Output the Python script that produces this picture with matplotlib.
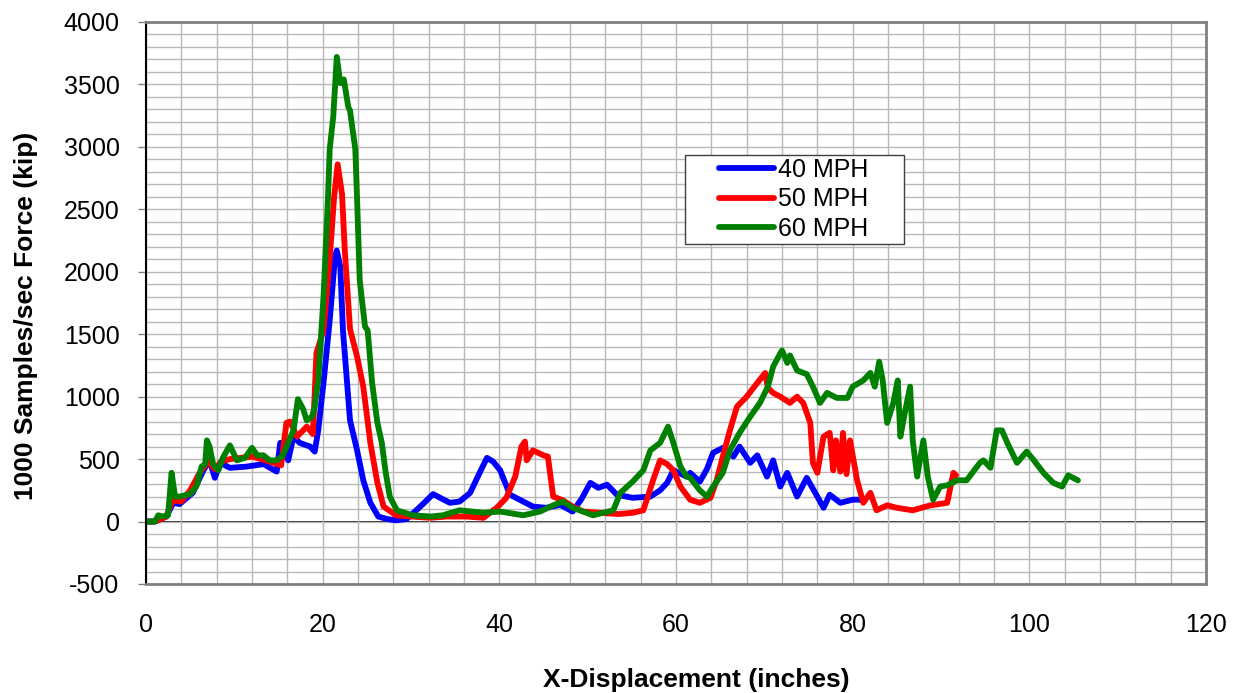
import matplotlib.pyplot as plt
from matplotlib.ticker import MultipleLocator
from matplotlib.patches import Rectangle

plt.rcParams['font.family'] = ['Liberation Sans', 'DejaVu Sans']
plt.rcParams['axes.unicode_minus'] = False

# --- data ---
x_40 = [0, 1, 2.3, 3.1, 3.8, 5.3, 6.5, 7.2, 7.8, 8.4, 9.5, 11.4, 13.3, 14.8, 15.2,
        16.1, 16.7, 17.4, 18.6, 19.1, 19.5, 20.1, 20.8, 21.4, 21.6, 22.0, 22.3,
        23.1, 23.9, 24.6, 25.4, 26.3, 27.3, 28.3, 29.5, 30.6, 31.5, 32.5, 33.3,
        34.4, 35.5, 36.7, 37.7, 38.6, 39.3, 40.1, 41.2, 42.3, 43.8, 45.3, 46.9,
        48.3, 49.3, 50.3, 51.2, 52.2, 53.3, 55.1, 57.1, 58.2, 59.0, 59.7, 61.2,
        61.6, 62.7, 63.5, 64.2, 65.3, 66.5, 67.2, 68.4, 69.2, 70.3, 71.0, 71.8,
        72.6, 73.7, 74.8, 76.0, 76.7, 77.4, 78.6, 80.0, 80.8, 81.3]
y_40 = [0, 0, 40, 150, 140, 230, 410, 490, 350, 470, 430, 440, 460, 400, 630,
        490, 680, 630, 600, 560, 730, 1110, 1610, 2120, 2170, 2040, 1530,
        810, 570, 330, 150, 40, 20, 10, 20, 90, 150, 220, 190,
        150, 160, 230, 380, 510, 480, 410, 215, 175, 120, 110, 133,
        80, 180, 310, 270, 295, 215, 190, 200, 250, 310, 410, 360,
        390, 320, 420, 550, 590, 520, 600, 470, 530, 360, 490, 280,
        390, 200, 350, 200, 110, 215, 150, 175, 175, 170]

x_50 = [0, 1, 2.3, 3.0, 4.0, 5.0, 6.0, 7.0, 7.8, 8.5, 9.5, 12.0, 14.0, 15.3,
        15.9, 16.3, 17.1, 18.2, 18.9, 19.3, 20.1, 20.8, 21.3, 21.7, 22.2, 22.5,
        23.1, 23.9, 24.6, 25.4, 26.2, 26.9, 28.3, 30.0, 32.2, 34.0, 36.3, 38.2,
        39.7, 40.8, 41.8, 42.5, 42.9, 43.1, 43.8, 45.0, 45.5, 46.1, 47.2, 48.3,
        49.5, 51.4, 53.5, 55.1, 56.3, 57.4, 58.2, 59.0, 59.7, 60.5, 61.6, 62.7,
        63.9, 64.6, 65.3, 66.1, 66.9, 68.0, 69.2, 70.1, 70.4, 71.0, 71.8, 72.9,
        73.7, 74.4, 75.2, 75.5, 76.0, 76.7, 77.4, 77.8, 78.1, 78.6, 78.9, 79.3,
        79.7, 80.5, 81.2, 82.0, 82.7, 83.9, 85.0, 86.8, 88.8, 90.7, 91.4, 91.7]
y_50 = [0, 0, 40, 170, 160, 250, 380, 480, 420, 480, 500, 520, 480, 450,
        790, 800, 680, 760, 700, 1350, 1530, 2100, 2600, 2860, 2620, 2180,
        1540, 1320, 1080, 630, 310, 120, 50, 40, 30, 40, 40, 30,
        110, 190, 360, 600, 640, 490, 570, 530, 520, 200, 170, 120,
        80, 70, 60, 70, 90, 330, 490, 460, 410, 280, 175, 150,
        190, 330, 520, 730, 920, 1000, 1110, 1190, 1070, 1030, 1000, 950,
        1000, 950, 790, 470, 390, 680, 710, 410, 650, 400, 710, 380,
        650, 330, 150, 230, 90, 130, 110, 90, 130, 150, 390, 370]

x_60 = [0, 1.0, 1.4, 1.9, 2.5, 2.9, 3.3, 3.8, 5.0, 5.7, 6.3, 6.7, 6.9, 7.2,
        7.6, 8.2, 8.7, 9.5, 10.3, 11.2, 12.0, 12.6, 13.3, 14.0, 14.8, 15.5,
        16.1, 16.7, 17.2, 17.8, 18.2, 18.8, 19.1, 19.5, 20.1, 20.6, 20.8, 21.2,
        21.6, 22.0, 22.4, 22.9, 23.1, 23.7, 23.9, 24.2, 24.8, 25.1, 25.6, 26.2,
        26.7, 27.1, 27.6, 28.4, 30.2, 32.2, 33.6, 35.5, 38.2, 40.1, 42.7, 44.6,
        46.1, 47.2, 48.3, 49.5, 50.6, 52.9, 53.7, 55.1, 56.3, 57.1, 58.2, 59.1,
        59.7, 60.5, 61.2, 61.6, 62.7, 63.5, 64.2, 65.3, 66.1, 67.2, 68.4, 69.5,
        70.4, 71.0, 71.6, 72.0, 72.6, 72.9, 73.7, 74.8, 75.5, 76.3, 77.1, 78.2,
        79.4, 80.0, 81.2, 82.0, 82.5, 83.0, 83.4, 83.9, 84.6, 85.1, 85.4, 85.9,
        86.5, 86.8, 87.3, 88.0, 88.5, 89.1, 89.9, 90.7, 91.8, 92.9, 94.4, 94.8,
        95.6, 96.3, 96.9, 97.5, 98.6, 99.7, 100.4, 101.6, 102.7, 103.7, 104.4,
        105.5]
y_60 = [0, 0, 50, 40, 50, 390, 200, 200, 220, 280, 440, 460, 650, 600,
        460, 410, 510, 610, 490, 510, 590, 530, 530, 490, 490, 530,
        630, 730, 980, 900, 810, 840, 920, 1130, 1800, 2580, 2980, 3240,
        3720, 3510, 3540, 3320, 3290, 2980, 2580, 1930, 1560, 1530, 1110, 790,
        630, 410, 200, 90, 50, 40, 50, 90, 70, 80, 50, 80,
        130, 160, 110, 80, 50, 90, 230, 320, 410, 570, 630, 760,
        630, 440, 360, 350, 250, 200, 280, 390, 570, 710, 840, 950,
        1080, 1240, 1320, 1370, 1270, 1330, 1210, 1180, 1080, 950, 1030, 990,
        990, 1080, 1130, 1190, 1080, 1280, 1130, 790, 950, 1130, 680, 870,
        1080, 650, 360, 650, 360, 175, 280, 290, 330, 330, 470, 490,
        430, 730, 730, 630, 470, 560, 500, 390, 310, 280, 370,
        330]

series = [('40 MPH', x_40, y_40, '#0000ff'),
          ('50 MPH', x_50, y_50, '#ff0000'),
          ('60 MPH', x_60, y_60, '#008000')]

# --- figure ---
fig = plt.figure(figsize=(12.39, 6.93), dpi=100)
ax = fig.add_axes([0.1178, 0.1573, 0.8556, 0.811])

for label, xs, ys, color in series:
    ax.plot(xs, ys, color=color, lw=4.2, label=label, solid_joinstyle='round',
            solid_capstyle='round')

ax.set_xlim(0, 120)
ax.set_ylim(-500, 4000)
ax.xaxis.set_major_locator(MultipleLocator(20))
ax.xaxis.set_minor_locator(MultipleLocator(4))
ax.yaxis.set_major_locator(MultipleLocator(500))
ax.yaxis.set_minor_locator(MultipleLocator(100))
ax.grid(True, which='both', color='#b8b8b8', lw=1)
ax.set_axisbelow(True)

ax.tick_params(axis='x', which='both', length=0, pad=21, labelsize=18)
ax.tick_params(axis='y', which='major', length=6, width=1, color='#808080',
               pad=13, labelsize=18)
ax.tick_params(axis='y', which='minor', length=0)

for side in ['top', 'right', 'bottom']:
    ax.spines[side].set_color('#808080')
    ax.spines[side].set_linewidth(2)
ax.spines['left'].set_color('black')
ax.spines['left'].set_linewidth(1.5)

# horizontal axis line drawn through y = 0
zero_ax = ax.secondary_xaxis(500 / 4500)
zero_ax.spines['bottom'].set_color('black')
zero_ax.spines['bottom'].set_linewidth(1.2)
zero_ax.xaxis.set_major_locator(MultipleLocator(20))
zero_ax.tick_params(axis='x', length=6, color='#808080', labelbottom=False)

ax.set_xlabel('X-Displacement (inches)', fontsize=19, fontweight='bold')
ax.set_ylabel('1000 Samples/sec Force (kip)', fontsize=19, fontweight='bold')
ax.xaxis.set_label_coords(0.519, -0.15)
ax.yaxis.set_label_coords(-0.102, 0.477)

# legend: Excel style box, wide side padding
leg = ax.legend(loc='upper left', bbox_to_anchor=(0.5406, 0.758), fontsize=18,
                frameon=False, handlelength=2.2, labelspacing=0.22,
                borderpad=0, handletextpad=0.15, borderaxespad=0)
fig.canvas.draw()
bb = leg.get_window_extent().transformed(ax.transAxes.inverted())
px_x = 1 / (0.8556 * 1239)
px_y = 1 / (0.811 * 693)
box = Rectangle((bb.x0 - 34 * px_x, bb.y0 - 3 * px_y),
                bb.width + 70 * px_x, bb.height + 6 * px_y,
                transform=ax.transAxes, facecolor='white', edgecolor='#404040',
                lw=1, zorder=4.5)
ax.add_patch(box)

fig.savefig('out.png', dpi=100)
